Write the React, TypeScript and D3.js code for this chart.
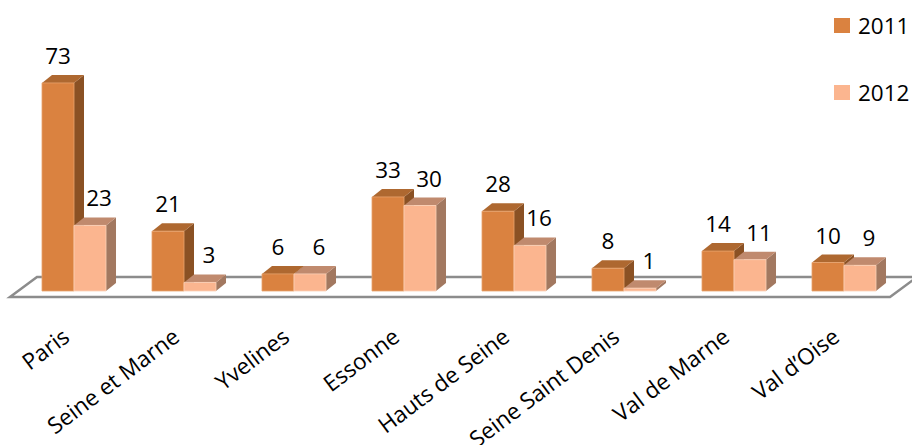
import React from "react";
import * as d3 from "d3";

const categories = ["Paris", "Seine et Marne", "Yvelines", "Essonne", "Hauts de Seine", "Seine Saint Denis", "Val de Marne", "Val d\u2019Oise"];
const series = ["2011", "2012"];
const values2011 = [73, 21, 6, 33, 28, 8, 14, 10];
const values2012 = [23, 3, 6, 30, 16, 1, 11, 9];

const W = 912;
const H = 445;
const FONT = "'Open Sans', 'Noto Sans', sans-serif";
const FS = 22.5;

const colors = [
  { front: "#DA8240", top: "#AE6830", side: "#8A5124", edge: "#E9A56F" },
  { front: "#FBB58F", top: "#C08A6E", side: "#A27860", edge: "#FDD2B8" },
];

export default function App() {
  const baseY = 291;
  const dx = 10;
  const dy = -8;
  const x = d3.scaleBand<string>().domain(categories).range([19, 899]).paddingInner(0.418).paddingOuter(0.209);
  const xs = d3.scaleBand<string>().domain(series).range([0, x.bandwidth()]).padding(0);
  const y = d3.scaleLinear().domain([0, 80]).range([baseY, baseY - 80 * 2.85]);
  const data = [values2011, values2012];

  const floor = [
    [10, 297],
    [890, 297],
    [917, 277],
    [37, 277],
  ];

  const bars: React.ReactNode[] = [];
  const labels: React.ReactNode[] = [];
  categories.forEach((c, i) => {
    series.forEach((s, j) => {
      const v = data[j][i];
      const x0 = (x(c) as number) + (xs(s) as number);
      const w = xs.bandwidth();
      const y0 = y(v);
      const col = colors[j];
      const front = `M${x0},${y0}H${x0 + w}V${baseY}H${x0}Z`;
      const top = `M${x0},${y0}L${x0 + dx},${y0 + dy}H${x0 + w + dx}L${x0 + w},${y0}Z`;
      const side = `M${x0 + w},${y0}L${x0 + w + dx},${y0 + dy}V${baseY + dy}L${x0 + w},${baseY}Z`;
      bars.push(
        <g key={`${c}-${s}`}>
          <path d={side} fill={col.side} />
          <path d={top} fill={col.top} />
          <path d={front} fill={col.front} stroke={col.edge} strokeWidth={0.8} />
        </g>
      );
      labels.push(
        <text
          key={`l-${c}-${s}`}
          x={x0 + w / 2 + (j === 1 ? 9 : 0)}
          y={y0 - 19}
          textAnchor="middle"
          fontSize={FS}
          fontFamily={FONT}
          fill="#000"
        >
          {v}
        </text>
      );
    });
  });

  return (
    <svg width={W} height={H} style={{ position: "absolute", left: 0, top: 0, background: "#fff" }}>
      <polygon points={floor.map((p) => p.join(",")).join(" ")} fill="#fff" stroke="#8C8C8C" strokeWidth={2.5} strokeLinejoin="miter" />
      {bars}
      {labels}
      {categories.map((c) => {
        const cx = (x(c) as number) + x.bandwidth() / 2;
        return (
          <text
            key={`cat-${c}`}
            transform={`translate(${cx - 3},340) rotate(-37)`}
            textAnchor="end"
            fontSize={FS}
            fontFamily={FONT}
            fill="#000"
          >
            {c}
          </text>
        );
      })}
      {series.map((s, j) => (
        <g key={`leg-${s}`} transform={`translate(834,${18 + j * 67})`}>
          <rect width={16} height={15} fill={colors[j].front} />
          <text x={24} y={15.5} fontSize={FS} fontFamily={FONT} fill="#000">
            {s}
          </text>
        </g>
      ))}
    </svg>
  );
}
